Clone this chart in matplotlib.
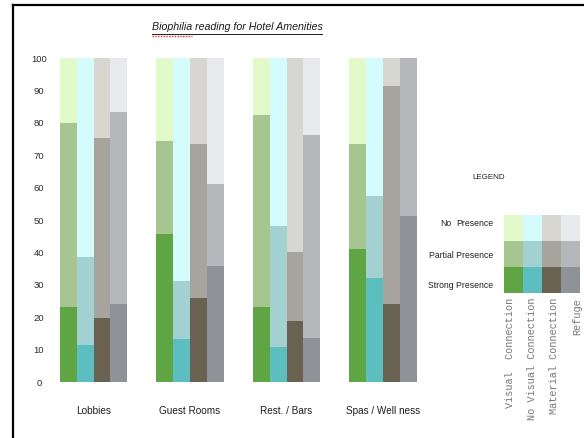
import matplotlib
matplotlib.use("Agg")
import matplotlib.pyplot as plt
from matplotlib import font_manager
from matplotlib.patches import Rectangle
from matplotlib.lines import Line2D
import numpy as np

# ---- data -------------------------------------------------------------
venues = ["Lobbies", "Guest Rooms", "Rest. / Bars", "Spas / Well ness"]
elements = ["Visual  Connection", "No Visual Connection",
            "Material Connection", "Refuge"]
levels = ["No", "Partial Presence", "Strong Presence"]

# share of each presence level per element, one value per venue
strong_visual = [23.3, 45.7, 23.1, 41.1]
strong_novisual = [11.5, 13.3, 10.7, 32.1]
strong_material = [19.7, 25.9, 18.9, 24.1]
strong_refuge = [24.1, 35.7, 13.5, 51.2]

partial_visual = [56.5, 28.7, 59.3, 32.5]
partial_novisual = [27.0, 18.0, 37.6, 25.3]
partial_material = [55.7, 47.5, 21.2, 67.3]
partial_refuge = [59.3, 25.3, 62.7, 48.8]

none_visual = [20.2, 25.6, 17.6, 26.4]
none_novisual = [61.5, 68.7, 51.7, 42.6]
none_material = [24.6, 26.6, 59.9, 8.6]
none_refuge = [16.6, 39.0, 23.8, 0.0]

yticks = [0, 10, 20, 30, 40, 50, 60, 70, 80, 90, 100]

# colours: (no, partial, strong) for each element
palette = [
    ("#e2f9c9", "#a7c590", "#5fa544"),
    ("#d5fcfc", "#a3d1d1", "#5cbebe"),
    ("#d7d6d0", "#a6a49d", "#6a6250"),
    ("#e9eaee", "#b5b7bb", "#8f9297"),
]

strong = [strong_visual, strong_novisual, strong_material, strong_refuge]
partial = [partial_visual, partial_novisual, partial_material, partial_refuge]
none = [none_visual, none_novisual, none_material, none_refuge]

# ---- fonts ------------------------------------------------------------
installed = {f.name for f in font_manager.fontManager.ttflist}
narrow = "Liberation Sans Narrow" if "Liberation Sans Narrow" in installed else "Liberation Sans"
mono = "Liberation Mono" if "Liberation Mono" in installed else "DejaVu Sans Mono"

W, H = 584, 438
fig = plt.figure(figsize=(W / 100, H / 100), dpi=100)
fig.patch.set_facecolor("white")


def fx(px):
    return px / W


def fy(py):
    return 1 - py / H


# ---- main stacked bars --------------------------------------------------
ax_l, ax_r, ax_t, ax_b = 52, 430, 58, 382
ax = fig.add_axes([fx(ax_l), fy(ax_b), fx(ax_r - ax_l), (ax_b - ax_t) / H])
group_px = 96.5
x0_px = 93.5
ax.set_xlim((ax_l - x0_px) / group_px, (ax_r - x0_px) / group_px)
ax.set_ylim(0, 100)

x = np.arange(len(venues))
bw = 0.174
for j in range(len(elements)):
    xs = x + (j - 1.5) * bw
    s = np.array(strong[j])
    p = np.array(partial[j])
    n = np.array(none[j])
    c_no, c_part, c_str = palette[j]
    ax.bar(xs, s, bw, color=c_str, linewidth=0)
    ax.bar(xs, p, bw, bottom=s, color=c_part, linewidth=0)
    ax.bar(xs, n, bw, bottom=s + p, color=c_no, linewidth=0)

for sp in ax.spines.values():
    sp.set_visible(False)
ax.set_yticks(yticks)
ax.set_yticklabels([str(t) for t in yticks], fontsize=6.8,
                   family=narrow, color="#2a2a2a")
for lab in ax.get_yticklabels():
    lab.set_ha("center")
ax.tick_params(axis="y", length=0, pad=9.5)
ax.set_xticks(x)
ax.set_xticklabels(venues, fontsize=7.2, family=narrow, color="#1e1e1e")
ax.tick_params(axis="x", length=0, pad=17)

# ---- title -------------------------------------------------------------
title = fig.text(fx(237), fy(27), "Biophilia reading for Hotel Amenities",
                 ha="center", va="center", fontsize=7.7, style="italic",
                 family=narrow, color="#1a1a1a")
fig.canvas.draw()
bb = title.get_window_extent()
under_y = bb.y0 - 1.5
fig.add_artist(Line2D([bb.x0 / W, bb.x1 / W], [under_y / H, under_y / H],
                      color="#1a1a1a", lw=0.7))
# spelling mark under the first word
fig.add_artist(Line2D([bb.x0 / W, (bb.x0 + 40) / W],
                      [(under_y - 2) / H, (under_y - 2) / H],
                      color="#d03030", lw=1.0, ls=(0, (1, 1))))

# ---- legend block -------------------------------------------------------
fig.text(fx(489), fy(178), "LEGEND", ha="center", va="center",
         fontsize=5.8, family=narrow, color="#222222")

gx0, gx1, gy0, gy1 = 504, 580, 215, 293
cw = (gx1 - gx0) / 4
rh = (gy1 - gy0) / 3
for j in range(4):
    for r in range(3):
        rect = Rectangle((fx(gx0 + j * cw), fy(gy0 + (r + 1) * rh)),
                         cw / W, rh / H, transform=fig.transFigure,
                         facecolor=palette[j][r], edgecolor="none")
        fig.add_artist(rect)

row_y = [224, 255, 286]
fig.text(fx(440), fy(row_y[0]), levels[0], ha="left", va="center",
         fontsize=6.2, family=narrow, color="#1e1e1e")
fig.text(fx(493), fy(row_y[0]), "Presence", ha="right", va="center",
         fontsize=6.2, family=narrow, color="#1e1e1e")
for r in (1, 2):
    fig.text(fx(493), fy(row_y[r]), levels[r], ha="right", va="center",
             fontsize=6.2, family=narrow, color="#1e1e1e")

col_x = [510, 532, 554, 577]
for j, name in enumerate(elements):
    fig.text(fx(col_x[j]), fy(298), name, rotation=90, ha="center", va="top",
             fontsize=7.4, family=mono, color="#777777")

# ---- frame lines --------------------------------------------------------
fig.add_artist(Line2D([fx(13), fx(13)], [0, fy(5)], color="black", lw=1.6))
fig.add_artist(Line2D([fx(13), 1], [fy(5), fy(5)], color="black", lw=1.6))

fig.savefig("out.png", dpi=100, facecolor="white")
